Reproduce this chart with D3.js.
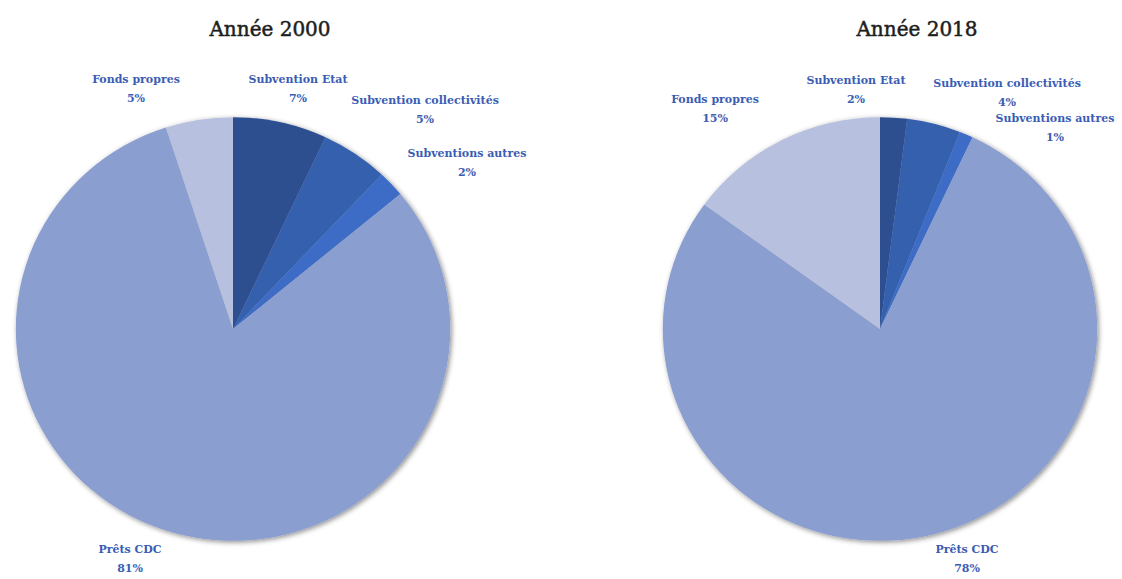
<!DOCTYPE html>
<html><head><meta charset="utf-8">
<script src="https://cdn.jsdelivr.net/npm/d3@7"></script>
<style>
body{margin:0;background:#fff;}
svg{display:block;}
</style></head>
<body>
<svg id="chart" width="1122" height="579"></svg>
<script>
const categories = ["Subvention Etat","Subvention collectivités","Subventions autres","Prêts CDC","Fonds propres"];
const values2000 = [7,5,2,81,5];
const values2018 = [2,4,1,78,15];
const titles = ["Année 2000","Année 2018"];
const colors = ["#2e4f8f","#3560ae","#3d6cc6","#8b9ed0","#b8c0e0"];

// label anchors relative to the pie centre (layout, not data)
const labelPos = [
  [[65,-246],[192,-225],[234,-172],[-103,224],[-97,-246]],
  [[-24,-245],[127,-242],[175,-207],[87,224],[-165,-226]]
];
const centers = [[233,329],[880,329]];
const R = 214;

const svg = d3.select("#chart");
const defs = svg.append("defs");
const f = defs.append("filter").attr("id","sh").attr("x","-10%").attr("y","-10%").attr("width","120%").attr("height","120%");
f.append("feDropShadow").attr("dx",1.5).attr("dy",1.5).attr("stdDeviation",2.5).attr("flood-color","#000").attr("flood-opacity",0.45);

const pie = d3.pie().sort(null).value(d=>d);
const arc = d3.arc().innerRadius(0).outerRadius(R);
const color = d3.scaleOrdinal().domain(categories).range(colors);

[values2000, values2018].forEach((vals,i)=>{
  const g = svg.append("g").attr("transform",`translate(${centers[i][0]},${centers[i][1]})`);
  const arcs = pie(vals);
  g.append("g").attr("filter","url(#sh)").attr("transform","scale(1.015,0.99)")
    .selectAll("path").data(arcs).enter().append("path")
    .attr("d",arc).attr("fill",(d,j)=>color(categories[j]));
  const lab = g.selectAll("text.lab").data(arcs).enter().append("text")
    .attr("class","lab")
    .attr("text-anchor","middle")
    .attr("font-family","DejaVu Serif")
    .attr("font-weight","bold")
    .attr("font-size","11px")
    .attr("fill","#3a5db4")
    .attr("transform",(d,j)=>`translate(${labelPos[i][j][0]},${labelPos[i][j][1]})`);
  lab.append("tspan").attr("x",0).attr("dy",0).text((d,j)=>categories[j]);
  lab.append("tspan").attr("x",0).attr("dy",19).text(d=>d.data+"%");
  svg.append("text").attr("x",centers[i][0]+37).attr("y",36)
    .attr("text-anchor","middle")
    .attr("font-family","DejaVu Serif")
    .attr("font-size","20px")
    .attr("fill","#1e1e1e")
    .attr("stroke","#1e1e1e").attr("stroke-width",0.5)
    .text(titles[i]);
});
</script>
</body></html>
